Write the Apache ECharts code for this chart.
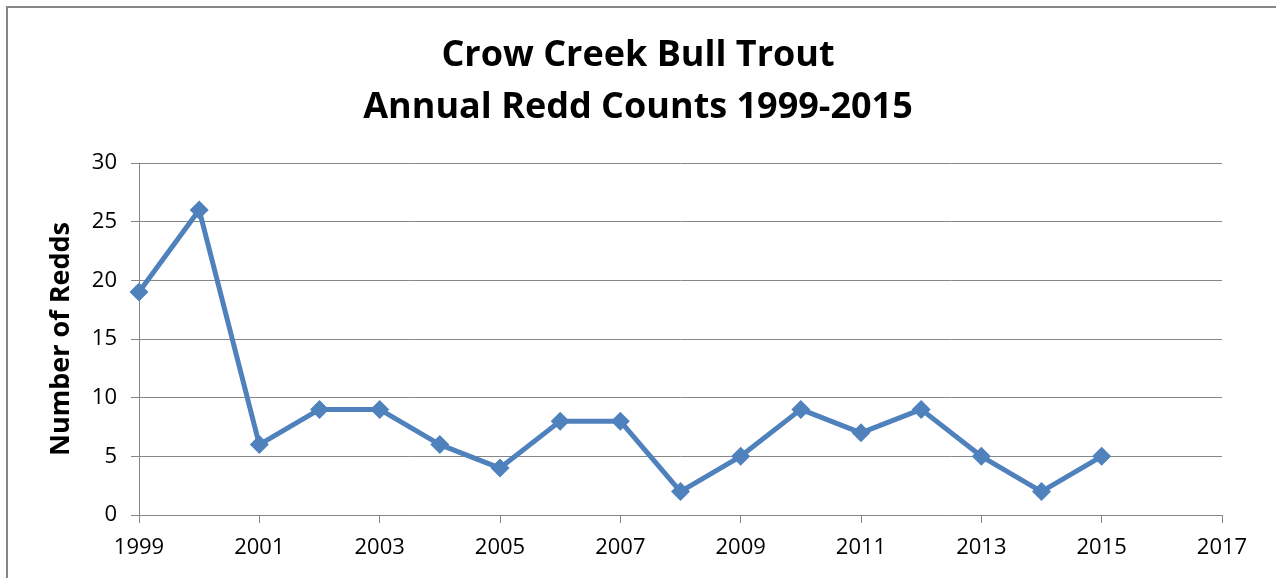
<!DOCTYPE html>
<html>
<head>
<meta charset="utf-8">
<script src="https://cdn.jsdelivr.net/npm/echarts@6/dist/echarts.min.js"></script>
<style>
html, body { margin: 0; padding: 0; background: #fff; }
#chart { width: 1276px; height: 578px; }
</style>
</head>
<body>
<div id="chart"></div>
<script>
// annual redd counts, Crow Creek bull trout
const years = [1999, 2000, 2001, 2002, 2003, 2004, 2005, 2006, 2007, 2008, 2009, 2010, 2011, 2012, 2013, 2014, 2015];
const redds = [19, 26, 6, 9, 9, 6, 4, 8, 8, 2, 5, 9, 7, 9, 5, 2, 5];
const xRange = [1999, 2017];
const yRange = [0, 30];

const font = '"Open Sans", "DejaVu Sans", sans-serif';
const gray = '#868686';

const chart = echarts.init(document.getElementById('chart'));
const option = {
    animation: false,
    title: {
        text: 'Crow Creek Bull Trout\nAnnual Redd Counts 1999-2015',
        left: 'center',
        top: 25,
        textStyle: {
            fontFamily: font,
            fontSize: 36,
            fontWeight: 'bold',
            color: '#000',
            lineHeight: 52
        }
    },
    graphic: [{
        type: 'rect',
        shape: { x: 7, y: 7, width: 1300, height: 620 },
        style: { fill: 'none', stroke: gray, lineWidth: 2 },
        silent: true
    }],
    grid: { left: 139, right: 54, top: 163, bottom: 63 },
    xAxis: {
        type: 'value',
        min: xRange[0],
        max: xRange[1],
        interval: 2,
        axisLine: { show: true, lineStyle: { color: gray, width: 1 } },
        axisTick: { show: true, length: 8, lineStyle: { color: gray } },
        splitLine: { show: false },
        axisLabel: {
            margin: 22,
            fontFamily: font,
            fontSize: 22,
            color: '#000',
            formatter: v => String(v)
        }
    },
    yAxis: {
        type: 'value',
        min: yRange[0],
        max: yRange[1],
        interval: 5,
        name: 'Number of Redds',
        nameLocation: 'middle',
        nameGap: 64,
        nameTextStyle: {
            fontFamily: font,
            fontSize: 27,
            fontWeight: 'bold',
            color: '#000'
        },
        axisLine: { show: true, lineStyle: { color: gray, width: 1 } },
        axisTick: { show: true, length: 8, lineStyle: { color: gray } },
        splitLine: { show: true, lineStyle: { color: gray, width: 1 } },
        axisLabel: {
            margin: 22,
            fontFamily: font,
            fontSize: 22,
            color: '#000'
        }
    },
    series: [{
        type: 'line',
        data: years.map((y, i) => [y, redds[i]]),
        symbol: 'diamond',
        symbolSize: 19,
        lineStyle: { color: '#4F81BD', width: 5 },
        itemStyle: { color: '#4F81BD' }
    }]
};
chart.setOption(option);
</script>
</body>
</html>
